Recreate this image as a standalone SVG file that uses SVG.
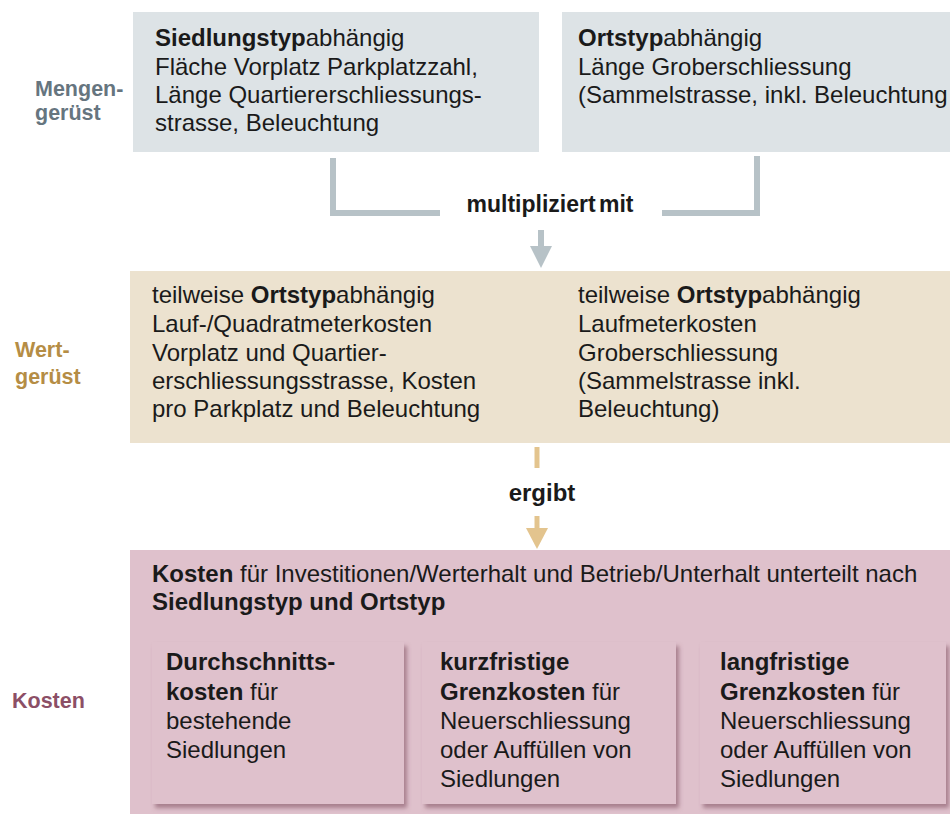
<svg xmlns="http://www.w3.org/2000/svg" width="950" height="814" viewBox="0 0 950 814">
<defs>
<style>
text{font-family:"Liberation Sans",Arial,sans-serif;font-size:24px;fill:#1a1a1a}
.b{font-weight:bold}
.lbl{font-weight:bold;font-size:21.5px}
.conn-gray{fill:none;stroke:#b7c2c7;stroke-width:6}
.conn-tan{fill:none;stroke:#e3c48e;stroke-width:5}
</style>
<filter id="sh" x="-5%" y="-5%" width="115%" height="115%">
<feDropShadow dx="3" dy="4" stdDeviation="2" flood-color="#7a4a5a" flood-opacity="0.55"/>
</filter>
</defs>
<rect width="950" height="814" fill="#ffffff"/>

<g id="label-mengen">
<text class="lbl" x="35" y="96" style="fill:#66757f">Mengen-</text>
<text class="lbl" x="35" y="120" style="fill:#66757f">gerüst</text>
</g>
<g id="label-wert">
<text class="lbl" x="15" y="357" style="fill:#b58d45">Wert-</text>
<text class="lbl" x="15" y="384" style="fill:#b58d45">gerüst</text>
</g>
<g id="label-kosten">
<text class="lbl" x="12" y="708" style="fill:#8c4f66">Kosten</text>
</g>

<g id="box-siedlung">
<rect x="133" y="12" width="406" height="140" fill="#dde3e6"/>
<text x="155" y="46"><tspan class="b">Siedlungstyp</tspan>abhängig</text>
<text x="155" y="75">Fläche Vorplatz Parkplatzzahl,</text>
<text x="155" y="103">Länge Quartiererschliessungs-</text>
<text x="155" y="131">strasse, Beleuchtung</text>
</g>

<g id="box-ort">
<rect x="562" y="12" width="388" height="140" fill="#dde3e6"/>
<text x="578" y="46"><tspan class="b">Ortstyp</tspan>abhängig</text>
<text x="578" y="75">Länge Groberschliessung</text>
<text x="578" y="103">(Sammelstrasse, inkl. Beleuchtung</text>
</g>

<g id="box-wert">
<rect x="130" y="271" width="820" height="172" fill="#ece2cf"/>
<text x="152" y="303">teilweise <tspan class="b">Ortstyp</tspan>abhängig</text>
<text x="152" y="332">Lauf-/Quadratmeterkosten</text>
<text x="152" y="361">Vorplatz und Quartier-</text>
<text x="152" y="389">erschliessungsstrasse, Kosten</text>
<text x="152" y="417">pro Parkplatz  und Beleuchtung</text>
<text x="578" y="303">teilweise <tspan class="b">Ortstyp</tspan>abhängig</text>
<text x="578" y="332">Laufmeterkosten</text>
<text x="578" y="361">Groberschliessung</text>
<text x="578" y="389">(Sammelstrasse inkl.</text>
<text x="578" y="417">Beleuchtung)</text>
</g>

<g id="box-kosten">
<rect x="130" y="550" width="820" height="264" fill="#dfc1cc"/>
<text x="152" y="582"><tspan class="b">Kosten</tspan> für Investitionen/Werterhalt und Betrieb/Unterhalt unterteilt nach</text>
<text x="152" y="610" class="b">Siedlungstyp und Ortstyp</text>
</g>

<g id="box-durchschnitt">
<rect x="152" y="642" width="252" height="162" fill="#dfc1cc" filter="url(#sh)"/>
<text x="166" y="670" class="b">Durchschnitts-</text>
<text x="166" y="700"><tspan class="b">kosten</tspan> für</text>
<text x="166" y="729">bestehende</text>
<text x="166" y="758">Siedlungen</text>
</g>

<g id="box-kurzfristig">
<rect x="422" y="642" width="254" height="162" fill="#dfc1cc" filter="url(#sh)"/>
<text x="440" y="670" class="b">kurzfristige</text>
<text x="440" y="700"><tspan class="b">Grenzkosten</tspan> für</text>
<text x="440" y="729">Neuerschliessung</text>
<text x="440" y="758">oder Auffüllen von</text>
<text x="440" y="787">Siedlungen</text>
</g>

<g id="box-langfristig">
<rect x="700" y="642" width="246" height="162" fill="#dfc1cc" filter="url(#sh)"/>
<text x="720" y="670" class="b">langfristige</text>
<text x="720" y="700"><tspan class="b">Grenzkosten</tspan> für</text>
<text x="720" y="729">Neuerschliessung</text>
<text x="720" y="758">oder Auffüllen von</text>
<text x="720" y="787">Siedlungen</text>
</g>

<g id="connectors">
<path class="conn-gray" d="M333,158 V213 H440"/>
<path class="conn-gray" d="M757,156 V213 H662"/>
<text x="550" y="212" class="b" text-anchor="middle" style="font-size:23px;word-spacing:-3px">multipliziert mit</text>
<path class="conn-gray" d="M541,230 V252"/>
<polygon points="530,246 552,246 541,268" fill="#b7c2c7"/>
<path class="conn-tan" d="M537,447 V468"/>
<text x="542" y="501" class="b" text-anchor="middle">ergibt</text>
<path class="conn-tan" d="M537,516 V532"/>
<polygon points="526,528 548,528 537,549" fill="#e3c48e"/>
</g>
</svg>
